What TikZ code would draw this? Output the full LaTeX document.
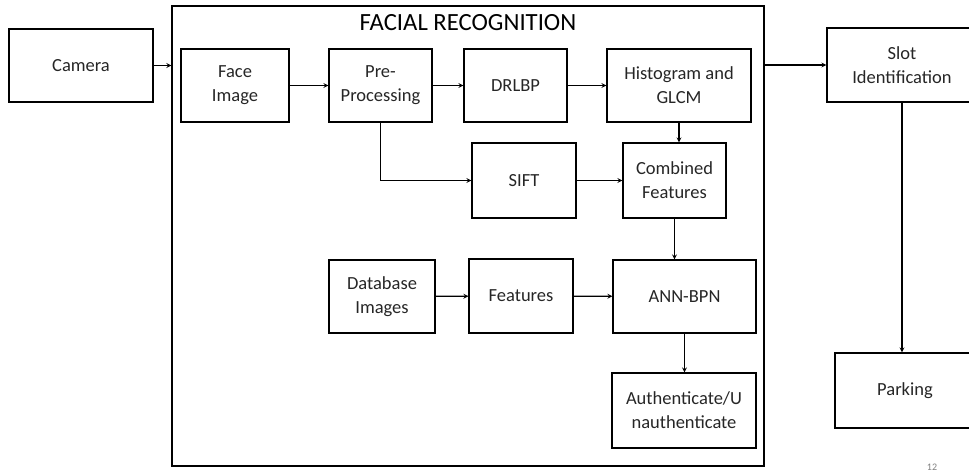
\documentclass[tikz,border=0pt]{standalone}
\usepackage{fontspec}
\setmainfont{Carlito}
\usepackage{tikz}
\usetikzlibrary{arrows,positioning}
\tikzstyle{block} = [draw, line width=1.2pt, align=center, inner sep=0pt, text=black!85, font=\fontsize{18.5}{24}\selectfont]
\tikzstyle{arrow} = [line width=1.2pt,->,>=stealth]

\begin{document}
\begin{tikzpicture}[x=1pt,y=-1pt]
        \clip (0,0) rectangle (969,472);
        % outer frame and title
        \node[draw, line width=1.3pt, minimum width=592pt, minimum height=460pt] (frame) at (468,236) {};
        \node[font=\fontsize{24.7}{28}\selectfont] (title) at (468,23) {FACIAL RECOGNITION};
        % blocks
        \node[block, minimum width=144pt, minimum height=73pt] (camera) at (81,65.5) {Camera};
        \node[block, minimum width=108pt, minimum height=73pt] (face) at (235,85.5) {Face\\Image};
        \node[block, minimum width=103pt, minimum height=73pt] (pre) at (380.5,85.5) {Pre-\\Processing};
        \node[block, minimum width=103pt, minimum height=73pt] (drlbp) at (515.5,85.5) {DRLBP};
        \node[block, minimum width=144pt, minimum height=73pt] (hist) at (679,85.5) {Histogram and\\GLCM};
        \node[block, minimum width=104pt, minimum height=75pt] (sift) at (524,180.5) {SIFT};
        \node[block, minimum width=103pt, minimum height=75pt] (comb) at (674.5,180.5) {Combined\\Features};
        \node[block, minimum width=106pt, minimum height=73pt] (dbimg) at (382,296.5) {Database\\Images};
        \node[block, minimum width=104pt, minimum height=74pt] (feat) at (521,296) {Features};
        \node[block, minimum width=143pt, minimum height=73pt] (ann) at (684.5,296.5) {ANN-BPN};
        \node[block, minimum width=144pt, minimum height=75pt] (auth) at (684,410.5) {Authenticate/U\\nauthenticate};
        \node[block, minimum width=150pt, minimum height=74pt] (slot) at (902,65) {Slot\\Identification};
        \node[block, minimum width=140pt, minimum height=75pt] (park) at (905,390.5) {Parking};
        \node[text=gray, font=\fontsize{10}{12}\selectfont] (pgno) at (932,467) {12};
        % connectors
        \draw[arrow] (camera.east) -- (camera.east -| frame.west);
        \draw[arrow] (face) -- (pre);
        \draw[arrow] (pre) -- (drlbp);
        \draw[arrow] (drlbp) -- (hist);
        \draw[arrow] (pre.south) |- (sift.west);
        \draw[arrow] (sift) -- (comb);
        \draw[arrow] (hist.south) -- (hist.south |- comb.north);
        \draw[arrow] (comb.south) -- (comb.south |- ann.north);
        \draw[arrow] (dbimg) -- (feat);
        \draw[arrow] (feat) -- (ann);
        \draw[arrow] (ann.south) -- (ann.south |- auth.north);
        \draw[arrow] (slot.west -| frame.east) -- (slot.west);
        \draw[arrow] (slot.south) -- (slot.south |- park.north);
    \end{tikzpicture}
\end{document}
